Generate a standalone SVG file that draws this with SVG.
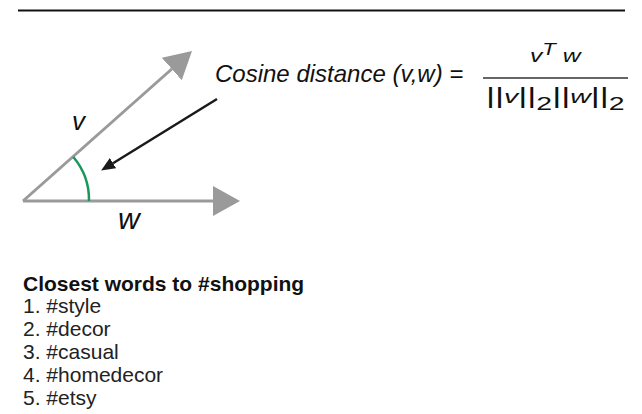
<svg xmlns="http://www.w3.org/2000/svg" width="642" height="414" viewBox="0 0 642 414">
<style>
text{font-family:"Liberation Sans",Arial,Helvetica,sans-serif;}
.it{font-style:italic;fill:#111;}
.vec{stroke:#9a9a9a;stroke-width:3;fill:none;}
.list{font-size:21px;fill:#222;}
</style>
<defs>
<marker id="gh" markerUnits="userSpaceOnUse" markerWidth="28" markerHeight="30" refX="0" refY="15" orient="auto" viewBox="0 0 28 30">
<path d="M0,0 L27,15 L0,30 Z" fill="#9a9a9a"/>
</marker>
<marker id="bh" markerUnits="userSpaceOnUse" markerWidth="14" markerHeight="12" refX="0" refY="6" orient="auto" viewBox="0 0 14 12">
<path d="M0,0 L14,6 L0,12 Z" fill="#1a1a1a"/>
</marker>
</defs>
<line x1="18" y1="10.5" x2="625" y2="10.5" stroke="#111" stroke-width="2"/>
<g id="connectors">
<line id="vec-w" class="vec" x1="23" y1="201" x2="213" y2="201" marker-end="url(#gh)"/>
<line id="vec-v" class="vec" x1="23" y1="201" x2="171.8" y2="69" marker-end="url(#gh)"/>
<path id="angle" d="M73.3,157 A66,66 0 0 1 89,201" fill="none" stroke="#16985a" stroke-width="2.5"/>
<line id="pointer" x1="217" y1="99" x2="113" y2="163.2" stroke="#1a1a1a" stroke-width="2.5" marker-end="url(#bh)"/>
</g>
<g id="label-v"><text class="it" x="72" y="130" font-size="26">v</text></g>
<g id="label-w"><text class="it" x="118" y="229" font-size="30">w</text></g>
<g id="formula">
<text class="it" x="215" y="82" font-size="24">Cosine distance (v,w) =</text>
<line x1="483" y1="78" x2="628" y2="78" stroke="#333" stroke-width="1.5"/>
<text transform="translate(530 0) scale(1.3 1)" x="0" y="62" font-size="19" class="it">v<tspan font-size="17" dy="-7">T</tspan><tspan font-size="19" dy="7"> w</tspan></text>
<text transform="translate(486 0) scale(1.58 1)" x="0" y="103" font-size="22" fill="#111">||<tspan class="it" font-size="18">v</tspan>||<tspan font-size="18" dy="7">2</tspan><tspan dy="-7">||</tspan><tspan class="it" font-size="18">w</tspan>||<tspan font-size="18" dy="7">2</tspan></text>
</g>
<g id="closest-words">
<text x="23" y="291" font-size="21" font-weight="bold" fill="#111">Closest words to #shopping</text>
<text class="list" x="23" y="313">1. #style</text>
<text class="list" x="23" y="336">2. #decor</text>
<text class="list" x="23" y="359">3. #casual</text>
<text class="list" x="23" y="382">4. #homedecor</text>
<text class="list" x="23" y="405">5. #etsy</text>
</g>
</svg>
